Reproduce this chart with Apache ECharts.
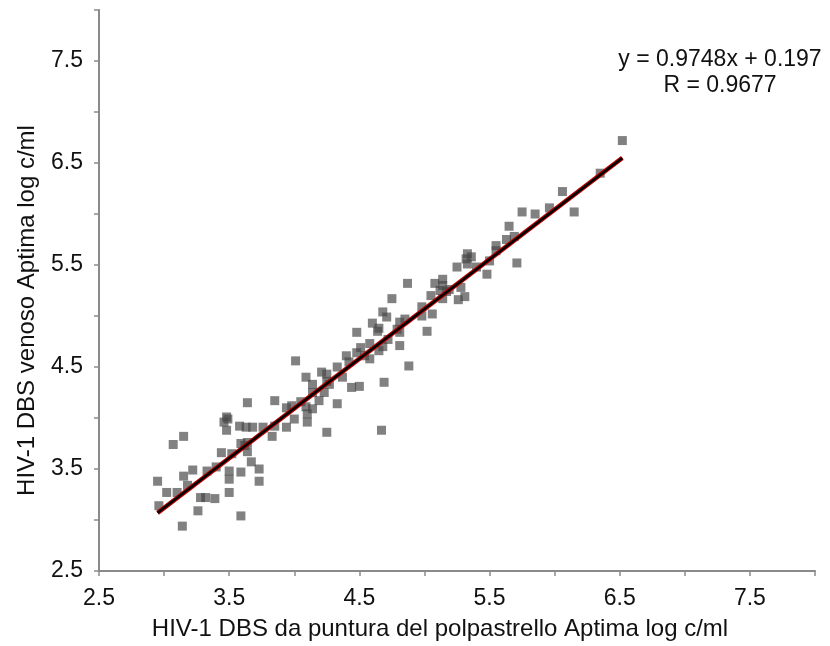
<!DOCTYPE html>
<html>
<head>
<meta charset="utf-8">
<script src="https://cdn.jsdelivr.net/npm/echarts@6/dist/echarts.min.js"></script>
<style>
  html, body { margin: 0; padding: 0; background: #fff; }
  #main { width: 830px; height: 646px; }
</style>
</head>
<body>
<div id="main"></div>
<script>
// polpastrello (x) vs venoso (y), log c/ml
var fingerstick = [3.64,3.48,3.46,3.48,3.49,3.58,3.63,3.68,3.76,3.15,
  3.07,3.44,3.52,3.59,3.62,3.64,3.64,3.67,3.73,3.22,
  3.33,3.40,3.50,3.50,3.59,3.73,2.95,3.15,3.18,3.02,
  3.10,3.50,3.28,3.32,3.39,2.96,3.26,3.59,3.14,4.01,
  4.21,4.25,4.25,4.33,4.37,4.09,4.14,4.27,4.23,4.19,
  4.14,3.85,3.98,4.05,4.33,4.14,4.09,4.00,4.10,4.10,
  3.94,3.85,3.94,3.83,4.25,4.48,4.40,4.42,4.48,4.51,
  4.54,4.58,4.58,4.50,4.44,4.87,4.75,4.68,4.71,4.60,
  4.65,4.64,4.81,4.85,4.79,4.81,4.98,4.98,5.06,5.02,
  4.72,4.65,4.68,4.81,4.88,4.69,4.67,5.08,5.14,5.14,
  5.12,5.05,5.17,5.14,5.19,5.25,5.28,5.26,5.31,5.96,
  5.75,5.85,5.65,5.69,5.63,5.55,5.55,5.33,5.32,5.36,
  5.33,5.50,5.48,5.71,5.40,6.52,6.35,6.06,6.15];
var venous = [4.15,4.01,3.96,3.88,3.99,3.92,3.91,3.91,3.91,3.82,
  3.74,3.66,3.65,3.75,3.73,3.76,3.67,3.57,3.50,3.49,
  3.48,3.52,3.48,3.40,3.47,3.38,3.38,3.43,3.34,3.27,
  3.27,3.27,3.22,3.22,3.21,3.14,3.09,3.04,2.94,4.56,
  4.45,4.43,4.36,4.50,4.40,4.40,4.33,4.33,4.25,4.17,
  4.25,4.17,4.12,4.16,4.14,4.09,4.11,3.99,4.04,3.96,
  4.10,3.92,3.91,3.82,3.86,4.84,4.61,4.55,4.64,4.69,
  4.61,4.58,4.73,4.31,4.30,5.32,5.17,5.04,4.99,4.93,
  4.88,4.85,4.94,4.97,4.87,4.84,5.09,5.00,5.02,4.85,
  4.77,4.66,4.70,4.71,4.51,4.35,3.88,5.32,5.36,5.30,
  5.25,5.20,5.24,5.17,5.26,5.48,5.28,5.16,5.19,6.06,
  6.02,6.00,5.88,5.78,5.75,5.69,5.64,5.61,5.56,5.58,
  5.51,5.54,5.41,5.52,5.48,6.72,6.40,6.22,6.02];
// trend line ends as drawn in the picture
var trendLine = [[2.95, 3.07], [6.52, 6.55]];
var tickLabels = ['2.5', '3.5', '4.5', '5.5', '6.5', '7.5'];
var equationText = 'y = 0.9748x + 0.197';
var rText = 'R = 0.9677';

var points = fingerstick.map(function (x, i) { return [x, venous[i]]; });

var font = 'Liberation Sans, Arial, sans-serif';
var labelFmt = function (v) {
  var s = v.toFixed(1);
  return tickLabels.indexOf(s) >= 0 ? s : '';
};

var axisCommon = {
  type: 'value',
  min: 2.5,
  max: 8,
  interval: 0.5,
  nameLocation: 'middle',
  axisLine: { show: true, lineStyle: { color: '#8a8a8a', width: 2 } },
  axisTick: { show: true, inside: false, length: 5, lineStyle: { color: '#8a8a8a', width: 1.5 } },
  splitLine: { show: false },
  axisLabel: { formatter: labelFmt, color: '#111', fontFamily: font, fontSize: 23, showMaxLabel: true, hideOverlap: false },
  nameTextStyle: { color: '#111', fontFamily: font, fontSize: 24 }
};

var myChart = echarts.init(document.getElementById('main'));
var option = {
  backgroundColor: '#fff',
  animation: false,
  grid: { left: 99, right: 15, top: 10, bottom: 74 },
  xAxis: Object.assign({}, axisCommon, {
    name: 'HIV-1 DBS da puntura del polpastrello Aptima log c/ml',
    nameGap: 46,
    axisLabel: Object.assign({}, axisCommon.axisLabel, { margin: 16 }),
    nameTextStyle: Object.assign({}, axisCommon.nameTextStyle, { padding: [0, 34, 0, 0] })
  }),
  yAxis: Object.assign({}, axisCommon, {
    name: 'HIV-1 DBS venoso Aptima log c/ml',
    nameGap: 60,
    axisLabel: Object.assign({}, axisCommon.axisLabel, { margin: 16 }),
    nameTextStyle: Object.assign({}, axisCommon.nameTextStyle, { padding: [0, 40, 0, 0] })
  }),
  graphic: [
    { type: 'text', x: 720, y: 60, style: { text: equationText, fill: '#111', font: '23px Liberation Sans', align: 'center', verticalAlign: 'middle' } },
    { type: 'text', x: 720, y: 86, style: { text: rText, fill: '#111', font: '23px Liberation Sans', align: 'center', verticalAlign: 'middle' } }
  ],
  series: [
    {
      type: 'scatter',
      data: points,
      symbol: 'rect',
      symbolSize: 9,
      itemStyle: { color: 'rgba(70,70,70,0.85)' },
      z: 2
    },
    {
      type: 'line',
      data: trendLine,
      symbol: 'none',
      lineStyle: { color: '#c00000', width: 4.5 },
      z: 3
    },
    {
      type: 'line',
      data: trendLine,
      symbol: 'none',
      lineStyle: { color: '#000', width: 2.5 },
      z: 4
    }
  ]
};
myChart.setOption(option);
</script>
</body>
</html>
